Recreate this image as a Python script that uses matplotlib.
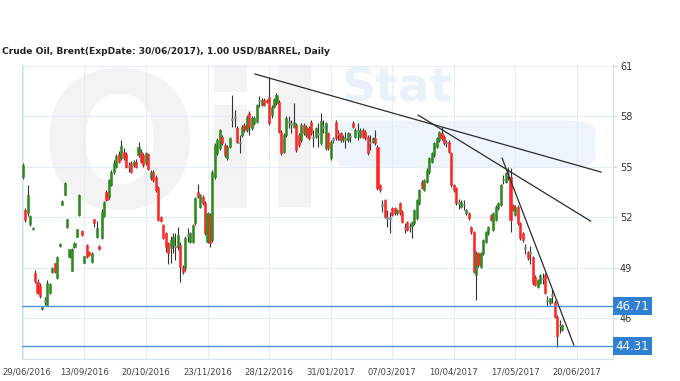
import matplotlib
matplotlib.use('Agg')
import matplotlib.pyplot as plt
from matplotlib.patches import FancyBboxPatch
import matplotlib.transforms as mtransforms
import numpy as np

# OHLC, one entry per trading day (index 0 = 29/06/2016)
opens = [
    54.37, 52.43, 52.23, 51.58, 51.28, 48.70, 48.16, 47.90, 46.55, 46.95,
    46.77, 47.51, 48.76, 49.25, 48.36, 50.30, 52.73, 53.32, 51.40, 49.65,
    48.82, 50.20, 50.84, 52.13, 51.18, 49.29, 50.35, 49.95, 49.31, 51.87,
    50.80, 50.29, 50.74, 52.07, 53.52, 53.22, 53.92, 54.71, 54.97, 55.76,
    55.50, 55.90, 55.76, 55.00, 55.20, 55.10, 55.30, 55.70, 55.90, 55.70,
    55.21, 55.76, 54.31, 54.71, 54.41, 53.72, 51.99, 51.53, 51.04, 50.44,
    50.15, 50.35, 50.20, 50.25, 50.35, 49.06, 48.96, 50.90, 50.54, 50.54,
    51.63, 53.52, 52.63, 53.22, 52.83, 50.54, 52.13, 50.64, 54.41, 55.80,
    56.10, 56.79, 56.30, 55.50, 56.20, 57.85, 57.90, 57.29, 56.40, 56.90,
    57.49, 57.19, 58.18, 57.29, 57.59, 57.69, 58.90, 58.68, 58.98, 58.98,
    59.17, 58.08, 58.58, 58.78, 58.88, 57.09, 55.90, 56.90, 57.60, 57.50,
    57.39, 57.49, 56.90, 56.60, 57.49, 56.89, 57.29, 57.69, 56.70, 56.79,
    56.90, 56.40, 57.30, 56.10, 56.99, 55.50, 56.60, 57.69, 56.90, 56.99,
    56.60, 56.60, 56.60, 56.75, 57.59, 56.79, 57.10, 56.79, 57.19, 57.09,
    56.79, 56.40, 56.50, 56.69, 56.20, 53.92, 52.70, 53.02, 51.90, 51.90,
    52.53, 52.53, 52.23, 52.82, 52.33, 51.30, 51.73, 51.40, 51.50, 51.63,
    51.93, 52.82, 54.11, 53.62, 54.11, 54.71, 55.30, 55.70, 56.20, 56.60,
    56.99, 56.79, 56.40, 56.50, 55.80, 53.92, 53.72, 52.80, 52.63, 52.70,
    52.23, 52.23, 51.44, 51.14, 48.56, 49.85, 49.06, 49.85, 50.54, 51.04,
    52.13, 51.24, 51.83, 52.53, 52.73, 54.20, 54.11, 54.60, 54.41, 52.73,
    52.13, 52.63, 51.64, 51.04, 50.10, 49.95, 49.80, 49.65, 48.46, 47.87,
    48.06, 48.30, 48.56, 47.00, 46.87, 47.30, 46.97, 46.08, 45.50, 45.30,
]
highs = [
    55.25, 52.55, 53.90, 52.15, 51.42, 48.85, 48.30, 48.10, 46.66, 47.27,
    48.26, 48.10, 49.05, 49.30, 49.70, 50.45, 53.00, 54.10, 51.90, 50.12,
    50.15, 50.52, 51.32, 53.36, 51.22, 49.72, 50.40, 50.00, 49.90, 51.90,
    51.80, 50.33, 52.50, 52.95, 53.60, 54.30, 54.80, 55.40, 55.75, 55.95,
    56.60, 56.10, 55.90, 55.30, 55.35, 55.40, 55.45, 56.50, 56.05, 55.85,
    55.90, 55.85, 54.80, 54.80, 54.50, 53.85, 52.10, 51.60, 51.10, 50.54,
    50.90, 51.04, 51.04, 51.44, 50.50, 49.15, 50.90, 51.34, 51.10, 51.60,
    53.20, 54.00, 53.40, 53.30, 52.95, 52.30, 52.25, 54.80, 56.40, 56.70,
    57.25, 56.90, 56.40, 56.30, 56.80, 59.27, 58.38, 57.40, 56.90, 57.50,
    57.60, 58.10, 58.30, 58.00, 58.00, 58.75, 59.20, 59.10, 59.10, 59.05,
    60.36, 58.70, 59.10, 59.40, 58.95, 57.20, 57.00, 58.00, 58.00, 57.80,
    58.78, 57.60, 57.00, 57.60, 57.60, 57.50, 57.40, 57.80, 57.20, 57.35,
    57.60, 58.22, 57.78, 57.65, 57.10, 56.60, 56.80, 57.80, 57.20, 57.10,
    56.90, 57.10, 57.10, 56.99, 57.70, 57.30, 57.59, 57.30, 57.30, 57.20,
    56.90, 56.90, 56.80, 57.19, 56.30, 54.00, 53.00, 53.10, 52.43, 52.33,
    52.60, 52.60, 52.50, 52.90, 52.40, 51.63, 51.80, 51.63, 51.80, 52.50,
    53.10, 53.70, 54.20, 54.30, 54.90, 55.60, 55.90, 56.50, 56.80, 57.15,
    57.39, 56.90, 56.60, 56.60, 55.90, 54.00, 53.80, 53.10, 53.00, 53.00,
    52.50, 52.30, 51.50, 51.20, 50.00, 49.95, 49.95, 50.70, 51.20, 51.50,
    52.20, 52.30, 52.70, 52.90, 54.00, 54.50, 54.70, 55.00, 54.90, 52.80,
    52.70, 52.70, 51.70, 51.10, 50.40, 50.00, 50.30, 49.70, 48.55, 48.30,
    48.60, 48.70, 48.65, 47.30, 47.20, 47.70, 47.05, 46.15, 45.90, 45.65,
]
lows = [
    54.30, 51.70, 52.10, 51.50, 51.22, 48.10, 47.40, 47.20, 46.50, 46.77,
    46.70, 47.40, 48.70, 48.70, 48.30, 50.25, 52.70, 53.30, 51.35, 49.60,
    48.80, 50.15, 50.80, 52.10, 50.90, 49.25, 49.60, 49.70, 49.28, 51.43,
    50.75, 50.05, 50.70, 52.00, 52.95, 53.10, 53.85, 54.60, 54.90, 55.20,
    55.40, 55.40, 54.90, 54.70, 54.65, 55.00, 54.95, 55.60, 55.20, 55.00,
    55.10, 54.80, 54.20, 54.10, 53.50, 51.75, 51.70, 50.70, 49.95, 49.20,
    49.25, 49.85, 49.45, 50.05, 48.16, 48.60, 48.80, 50.54, 50.45, 50.45,
    51.55, 53.15, 52.55, 52.75, 50.95, 50.45, 50.20, 50.55, 54.30, 55.70,
    56.00, 56.30, 55.60, 55.40, 56.10, 57.39, 57.39, 56.40, 55.80, 56.80,
    57.10, 57.10, 56.90, 57.20, 57.50, 57.60, 58.58, 58.60, 58.60, 58.80,
    57.50, 57.90, 58.50, 58.70, 57.00, 55.70, 55.80, 56.80, 57.30, 57.00,
    57.30, 55.90, 56.20, 56.50, 56.90, 56.80, 56.60, 56.90, 56.20, 56.70,
    56.20, 56.30, 56.99, 56.00, 56.00, 55.40, 56.40, 56.60, 56.60, 56.50,
    56.50, 56.10, 56.50, 56.50, 57.30, 56.70, 56.60, 56.70, 56.70, 56.60,
    55.70, 56.00, 56.40, 56.30, 53.60, 53.50, 52.33, 51.95, 51.44, 51.04,
    52.05, 52.15, 52.15, 52.15, 51.65, 51.04, 51.15, 51.14, 50.74, 51.55,
    51.85, 52.75, 53.65, 53.55, 54.05, 54.60, 55.20, 55.60, 56.10, 56.50,
    56.60, 56.30, 56.20, 55.80, 53.80, 53.50, 52.75, 52.50, 52.55, 52.43,
    52.15, 51.85, 51.00, 48.70, 47.07, 49.05, 49.00, 49.75, 50.45, 50.95,
    51.75, 51.15, 51.75, 52.45, 52.65, 54.00, 54.05, 54.20, 51.14, 52.35,
    52.05, 51.55, 50.65, 50.55, 49.80, 49.45, 49.20, 47.95, 47.90, 47.80,
    48.00, 48.00, 47.40, 46.70, 46.80, 46.90, 46.00, 44.29, 45.10, 45.20,
]
closes = [
    55.11, 51.83, 53.32, 52.07, 51.38, 48.22, 47.47, 47.30, 46.62, 47.00,
    48.06, 48.02, 49.00, 48.76, 49.65, 50.40, 52.96, 54.02, 51.87, 50.09,
    50.09, 50.48, 51.28, 53.32, 50.94, 49.69, 49.65, 49.75, 49.85, 51.67,
    51.34, 50.09, 52.33, 52.92, 53.02, 54.21, 54.71, 55.21, 55.64, 55.31,
    56.24, 55.50, 55.01, 55.05, 54.71, 55.30, 55.00, 56.16, 55.31, 55.10,
    55.80, 54.85, 54.71, 54.21, 53.62, 51.83, 51.79, 50.74, 50.25, 49.85,
    50.64, 50.84, 50.25, 50.94, 49.06, 48.76, 50.74, 50.95, 51.04, 51.54,
    53.12, 53.22, 53.32, 52.83, 51.04, 52.23, 50.44, 54.71, 56.30, 56.60,
    57.19, 56.40, 55.70, 56.20, 56.70, 57.80, 57.95, 56.50, 56.45, 57.39,
    57.19, 57.98, 57.39, 57.88, 57.88, 58.68, 58.95, 58.98, 58.68, 58.88,
    57.59, 58.58, 59.01, 59.27, 57.09, 55.80, 56.90, 57.88, 57.65, 57.55,
    57.69, 56.00, 56.30, 57.49, 56.99, 57.39, 56.69, 56.99, 56.75, 57.29,
    56.95, 57.70, 57.35, 57.59, 56.10, 56.50, 56.62, 56.69, 56.92, 56.60,
    56.79, 56.62, 56.99, 56.77, 57.39, 57.19, 57.12, 57.19, 56.79, 56.69,
    55.80, 56.45, 56.69, 56.40, 53.72, 53.62, 52.68, 52.03, 51.92, 51.95,
    52.13, 52.23, 52.43, 52.23, 51.73, 51.32, 51.24, 51.42, 51.73, 52.43,
    53.02, 53.62, 53.72, 54.21, 54.81, 55.50, 55.80, 56.40, 56.69, 57.09,
    56.69, 56.40, 56.42, 55.90, 53.92, 53.62, 52.83, 52.82, 52.92, 52.72,
    52.43, 51.93, 51.10, 48.76, 49.85, 49.15, 49.85, 50.64, 51.14, 51.44,
    51.83, 52.23, 52.63, 52.83, 53.92, 54.22, 54.61, 54.62, 51.83, 52.43,
    52.63, 51.64, 50.74, 50.64, 50.12, 49.55, 49.82, 48.06, 47.96, 48.26,
    48.56, 48.32, 47.47, 47.02, 47.17, 47.32, 46.08, 44.90, 45.52, 45.60,
]

tick_pos = [0, 25, 50, 75, 100, 125, 150, 175, 200, 225]
tick_labels = ['29/06/2016', '13/09/2016', '20/10/2016', '23/11/2016', '28/12/2016',
               '31/01/2017', '07/03/2017', '10/04/2017', '17/05/2017', '20/06/2017']
y_ticks = [46, 49, 52, 55, 58, 61]

# support / resistance levels and hand drawn trend lines (bar index, price)
levels = [46.71, 44.31]
trend_lines = [
    ((94.3, 60.52), (234.7, 54.69)),
    ((160.5, 58.08), (230.5, 51.77)),
    ((194.6, 55.51), (223.7, 44.39)),
]

fig = plt.figure(figsize=(6.8, 3.81), dpi=100)
ax = fig.add_axes((22 / 680, 1 - 359 / 381, (613 - 22) / 680, (359 - 65) / 381))
ax.set_xlim(-0.3, 239.6)
ax.set_ylim(43.56, 61.06)

# faint OilStat watermark
ax.text(0.03, 1.0, 'Oil', transform=ax.transAxes, fontsize=135, fontweight='bold',
        color='#f3f3f3', va='top', ha='left', zorder=0)
ax.text(0.54, 0.995, 'Stat', transform=ax.transAxes, fontsize=34, fontweight='bold',
        color='#e9f1fa', va='top', ha='left', zorder=0)
band = FancyBboxPatch((0.53, 0.65), 0.44, 0.16, boxstyle='round,pad=0.0,rounding_size=0.04',
                      transform=ax.transAxes, facecolor='#eef4fb', edgecolor='none', zorder=0)
ax.add_patch(band)

# grid
grid_c = '#e4edf7'
for t in tick_pos:
    ax.axvline(t, color=grid_c, lw=0.8, zorder=1)
for t in y_ticks:
    ax.axhline(t, color=grid_c, lw=0.8, zorder=1)

# candles
o = np.array(opens); h = np.array(highs); l = np.array(lows); c = np.array(closes)
x = np.arange(len(o))
ax.vlines(x, l, h, color='#333333', lw=0.8, zorder=2)
body_col = []
for oo, cc in zip(o, c):
    if abs(cc - oo) < 0.06:
        body_col.append('#8f8f8f')
    elif cc > oo:
        body_col.append('#2f8a1f')
    else:
        body_col.append('#ff2626')
bottom = np.minimum(o, c)
height = np.maximum(np.abs(c - o), 0.1)
ax.bar(x, height, bottom=bottom, width=0.85, color=body_col, edgecolor=body_col,
       lw=0.4, zorder=3)

# level lines + boxes
trans = mtransforms.blended_transform_factory(ax.transAxes, ax.transData)
for lv in levels:
    ax.axhline(lv, color='#4a94dc', lw=1.0, zorder=4)
    ax.text(1.004, lv, '%.2f' % lv, transform=trans, color='white', fontsize=8.5,
            va='center', ha='left', zorder=6, clip_on=False,
            bbox=dict(boxstyle='square,pad=0.22', facecolor='#2f80d2', edgecolor='none'))

for (x0, y0), (x1, y1) in trend_lines:
    ax.plot([x0, x1], [y0, y1], color='#2b2b2b', lw=0.9, zorder=5)

# axes styling
ax.yaxis.tick_right()
ax.set_yticks(y_ticks)
ax.set_yticklabels([str(v) for v in y_ticks])
ax.set_xticks(tick_pos)
ax.set_xticklabels(tick_labels)
ax.tick_params(axis='y', colors='#c9d6e4', labelcolor='#333333', labelsize=7, length=3, pad=2)
ax.tick_params(axis='x', length=0, labelcolor='#444444', labelsize=6.1, pad=6)
# first date label sits a few pixels right of the axis so it isn't clipped
first = ax.get_xticklabels()[0]
first.set_transform(first.get_transform() + mtransforms.ScaledTranslation(4 / 100, 0, fig.dpi_scale_trans))
for side in ['left', 'right', 'bottom']:
    ax.spines[side].set_color('#d4e0ec')
    ax.spines[side].set_linewidth(0.9)
ax.spines['top'].set_visible(False)

fig.text(0.003, 1 - 52 / 381, 'Crude Oil, Brent(ExpDate: 30/06/2017), 1.00 USD/BARREL, Daily',
         fontsize=6.6, fontweight='bold', color='#222222', va='center', ha='left')

fig.savefig('out.png', dpi=100)
